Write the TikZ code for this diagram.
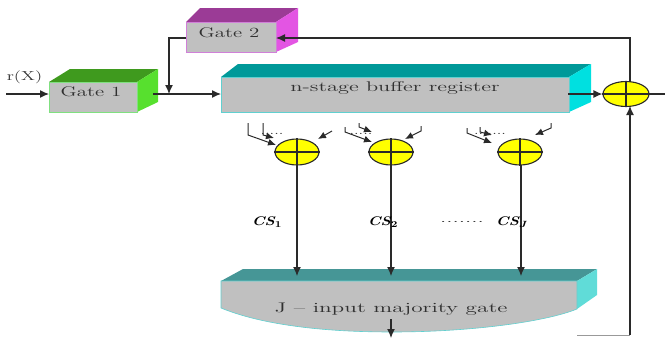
\documentclass[tikz,border=0pt]{standalone}
\usepackage{graphicx}
\usepackage{amsmath}
\usetikzlibrary{shapes.geometric,arrows.meta}
\newcommand{\widetxt}[2][1.5]{\scalebox{#1}[1]{#2}}
\definecolor{wirec}{HTML}{2A2A2A}
\definecolor{frontc}{HTML}{C0C0C0}
\definecolor{txtc}{HTML}{303030}
\definecolor{gonetop}{HTML}{3F9A1E}
\definecolor{goneside}{HTML}{57E02E}
\definecolor{goneedge}{HTML}{80E080}
\definecolor{gtwotop}{HTML}{9B3B96}
\definecolor{gtwoside}{HTML}{E355E3}
\definecolor{gtwoedge}{HTML}{D080D8}
\definecolor{regtop}{HTML}{009999}
\definecolor{regside}{HTML}{00E0E0}
\definecolor{regedge}{HTML}{60D0D0}
\definecolor{majtopc}{HTML}{469696}
\definecolor{majside}{HTML}{60DCD8}
\definecolor{xory}{HTML}{FFFF00}
\tikzset{
  wire/.style={draw=wirec,line width=1.2pt},
  arr/.style={wire,-{Latex[length=9pt,width=8pt]}},
  small/.style={wire,line width=1pt,-{Latex[length=8pt,width=7pt]}},
  front/.style={rectangle,fill=frontc,inner sep=0pt,line width=0.8pt},
  lbl/.style={inner sep=0pt,text=txtc,font=\fontsize{14}{16}\selectfont},
  xorn/.style={ellipse,draw=wirec,fill=xory,line width=1.1pt,inner sep=0pt,minimum width=44pt,minimum height=26pt},
  cs/.style={inner sep=0pt,font=\fontsize{12.5}{14}\selectfont\bfseries\itshape},
  dotsl/.style={inner sep=0pt,text=txtc,font=\fontsize{12}{12}\selectfont}
}
\begin{document}
\begin{tikzpicture}[x=1pt,y=-1pt]
\useasboundingbox (0,0) rectangle (665,338);
% Gate 1
\fill[gonetop] (49,82) -- (70,69) -- (158,69) -- (137,82) -- cycle;
\fill[goneside] (137,82) -- (158,69) -- (158,102) -- (137,112) -- cycle;
\node[front,draw=goneedge,minimum width=88pt,minimum height=30pt] (g1) at (93,97) {};
\node[lbl] (g1t) at (91,92) {\widetxt{Gate 1}};
% Gate 2
\fill[gtwotop] (186,22) -- (200,8) -- (298,8) -- (276,22) -- cycle;
\fill[gtwoside] (276,22) -- (298,8) -- (298,42) -- (276,52) -- cycle;
\node[front,draw=gtwoedge,minimum width=90pt,minimum height=30pt] (g2) at (231,37) {};
\node[lbl] (g2t) at (229,33) {\widetxt{Gate 2}};
% Register
\fill[regtop] (221,77) -- (238,64) -- (591,64) -- (569,77) -- cycle;
\fill[regside] (569,77) -- (591,64) -- (591,102) -- (569,112) -- cycle;
\node[front,draw=regedge,minimum width=348pt,minimum height=35pt] (reg) at (395,94.5) {};
\node[lbl] (regt) at (395,88) {\widetxt[1.6]{n-stage buffer register}};
% Majority gate
\fill[majtopc] (221,281) -- (243,269) -- (597,269) -- (577,281) -- cycle;
\fill[majside] (577,281) -- (597,269) -- (597,295) -- (577,309) -- cycle;
\draw[fill=frontc,draw=regedge,line width=0.6pt] (221,281) -- (577,281) -- (577,309) .. controls (545,322) and (470,332) .. (392,332) .. controls (310,332) and (255,322) .. (221,308) -- cycle;
\node[lbl] (majt) at (391,309) {\widetxt[1.66]{J -- input majority gate}};
\coordinate (majtop1) at (297,276);
\coordinate (majtop2) at (391,276);
\coordinate (majtop3) at (521,276);
% XORs
\node[xorn,minimum width=46pt,minimum height=25pt] (xo) at (626,94) {};
\node[xorn] (x1) at (297,152) {};
\node[xorn] (x2) at (391,152) {};
\node[xorn] (x3) at (520,152) {};
\foreach \n in {xo,x1,x2,x3}{
  \draw[wire] (\n.north) -- (\n.south);
  \draw[wire] (\n.west) -- (\n.east);
}
% main wires
\coordinate (rin) at (6,94);
\coordinate (g1in) at (49,94);
\coordinate (g2out) at (186,38);
\node[inner sep=0pt,font=\fontsize{13}{15}\selectfont,text=txtc] (rx) at (24.5,77) {\widetxt[1.45]{r(X)}};
\draw[arr] (rin) -- (g1in);
\coordinate (g1out) at (153,94);
\coordinate (join) at (169,94);
\coordinate (regin) at (221,94);
\draw[arr] (g1out) -- (regin);
\draw[arr] (g2out) -- (169,38) -- (join);
\coordinate (topc) at (630,38);
\coordinate (g2in) at (276,38);
\coordinate (xotop) at (630,82);
\draw[arr] (xotop) -- (topc) -- (g2in);
\coordinate (regout) at (568,94);
\draw[arr] (regout) -- (xo.west);
\coordinate (xout) at (665,94);
\draw[wire] (xo.east) -- (xout);
\coordinate (fb1) at (577,335);
\coordinate (fb2) at (630,335);
\coordinate (xobot) at (630,106);
\draw[draw=black!40,line width=1pt] (fb1) -- (fb2);
\draw[arr] (fb2) -- (xobot);
% xor outputs
\draw[arr] (x1.south) -- (majtop1);
\draw[arr] (x2.south) -- (majtop2);
\coordinate (x3out) at (521,165);
\draw[arr] (x3out) -- (majtop3);
\coordinate (mo1) at (391,319);
\coordinate (mo2) at (391,338);
\draw[arr] (mo1) -- (mo2);
% labels
\node[cs] (c1) at (267,222) {\widetxt[1.25]{CS$_{\boldsymbol{1}}$}};
\node[cs] (c2) at (383,222) {\widetxt[1.25]{CS$_{\boldsymbol{2}}$}};
\node[inner sep=0pt,font=\fontsize{11}{11}\selectfont,text=txtc] (cd) at (462,222) {\widetxt[2.1]{.......}};
\node[cs] (c3) at (512,222) {\widetxt[1.25]{CS$_{\boldsymbol{J}}$}};
% xor 1 inputs
\coordinate (a1) at (248,123); \coordinate (a2) at (263,123); \coordinate (a3) at (332,131);
\coordinate (t1) at (276,145); \coordinate (t2) at (274,138);
\draw[small] (a1) -- (248,135) -- (t1);
\draw[small] (a2) -- (263,135) -- (t2);
\draw[small] (a3) -- (318,139);
\node[dotsl] (d1) at (272,134) {\widetxt[1.4]{.....}};
% xor 2 inputs
\coordinate (b1) at (345,127); \coordinate (b2) at (359,123); \coordinate (b3) at (421,126);
\coordinate (u1) at (372,142); \coordinate (u2) at (372,132); \coordinate (u3) at (405,139);
\draw[small] (b1) -- (345,132) -- (u1);
\draw[small] (b2) -- (359,127) -- (u2);
\draw[small] (b3) -- (421,131) -- (u3);
\node[dotsl] (d2) at (361,134) {\widetxt[1.4]{.....}};
% xor 3 inputs
\coordinate (e1) at (467,128); \coordinate (e2) at (480,127); \coordinate (e3) at (551,123);
\coordinate (v1) at (492,143); \coordinate (v2) at (492,135); \coordinate (v3) at (535,135);
\draw[small] (e1) -- (467,133) -- (v1);
\draw[small] (e2) -- (480,132) -- (v2);
\draw[small] (e3) -- (551,128) -- (v3);
\node[dotsl] (d3) at (490,134) {\widetxt[1.4]{.......}};
\end{tikzpicture}
\end{document}
